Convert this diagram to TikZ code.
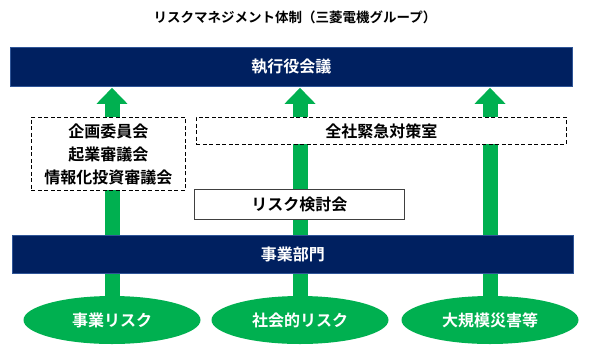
\documentclass[tikz,border=0pt]{standalone}
\usepackage{fontspec}
\setmainfont{Noto Sans CJK JP}[BoldFont={Noto Sans CJK JP Bold}]
\usetikzlibrary{shapes.geometric,arrows.meta,backgrounds}
\definecolor{navy}{HTML}{002060}
\definecolor{navyedge}{HTML}{2F5597}
\definecolor{riskgreen}{HTML}{00B050}
\definecolor{boxgray}{HTML}{404040}
\tikzset{
  bar/.style={draw=navyedge, line width=0.8pt, fill=navy, text=white, font=\bfseries\fontsize{16}{18}\selectfont, inner sep=0pt, anchor=north west},
  dashbox/.style={draw=black, line width=0.9pt, dash pattern=on 4pt off 2.5pt, fill=white, font=\bfseries\fontsize{16}{23}\selectfont, inner sep=0pt, anchor=north west, align=center},
  solidbox/.style={draw=boxgray, line width=0.9pt, fill=white, font=\bfseries\fontsize{16}{18}\selectfont, inner sep=0pt, anchor=north west},
  riskell/.style={ellipse, fill=riskgreen, text=white, minimum width=177pt, minimum height=48pt, inner sep=0pt, font=\bfseries\fontsize{16}{18}\selectfont},
  uparrow/.style={draw=riskgreen, line width=15pt, -{Triangle[width=30pt,length=16pt]}, shorten >=1pt},
}
\begin{document}
\begin{tikzpicture}[x=1pt,y=-1pt]
\useasboundingbox (0,0) rectangle (589,349);
\node[font=\bfseries\fontsize{13.5}{16}\selectfont] (title) at (295,17) {リスクマネジメント体制（三菱電機グループ）};
\node[bar, minimum width=562pt, minimum height=39pt] (top) at (10,47) {執行役会議};
\node[dashbox, minimum width=154pt, minimum height=73pt] (comm) at (31,117) {企画委員会\\起業審議会\\情報化投資審議会};
\node[dashbox, minimum width=370pt, minimum height=27pt] (emerg) at (196,117) {全社緊急対策室};
\node[solidbox, minimum width=210pt, minimum height=30pt] (review) at (194,189) {リスク検討会};
\node[bar, minimum width=561pt, minimum height=38pt] (div) at (12,235) {事業部門};
\node[riskell] (r1) at (112,320) {事業リスク};
\node[riskell] (r2) at (300,320) {社会的リスク};
\node[riskell] (r3) at (490,320) {大規模災害等};
\begin{pgfonlayer}{background}
\draw[uparrow] (r1.north) -- (r1.north |- top.south);
\draw[uparrow] (r2.north) -- (r2.north |- top.south);
\draw[uparrow] (r3.north) -- (r3.north |- top.south);
\end{pgfonlayer}
\end{tikzpicture}
\end{document}
